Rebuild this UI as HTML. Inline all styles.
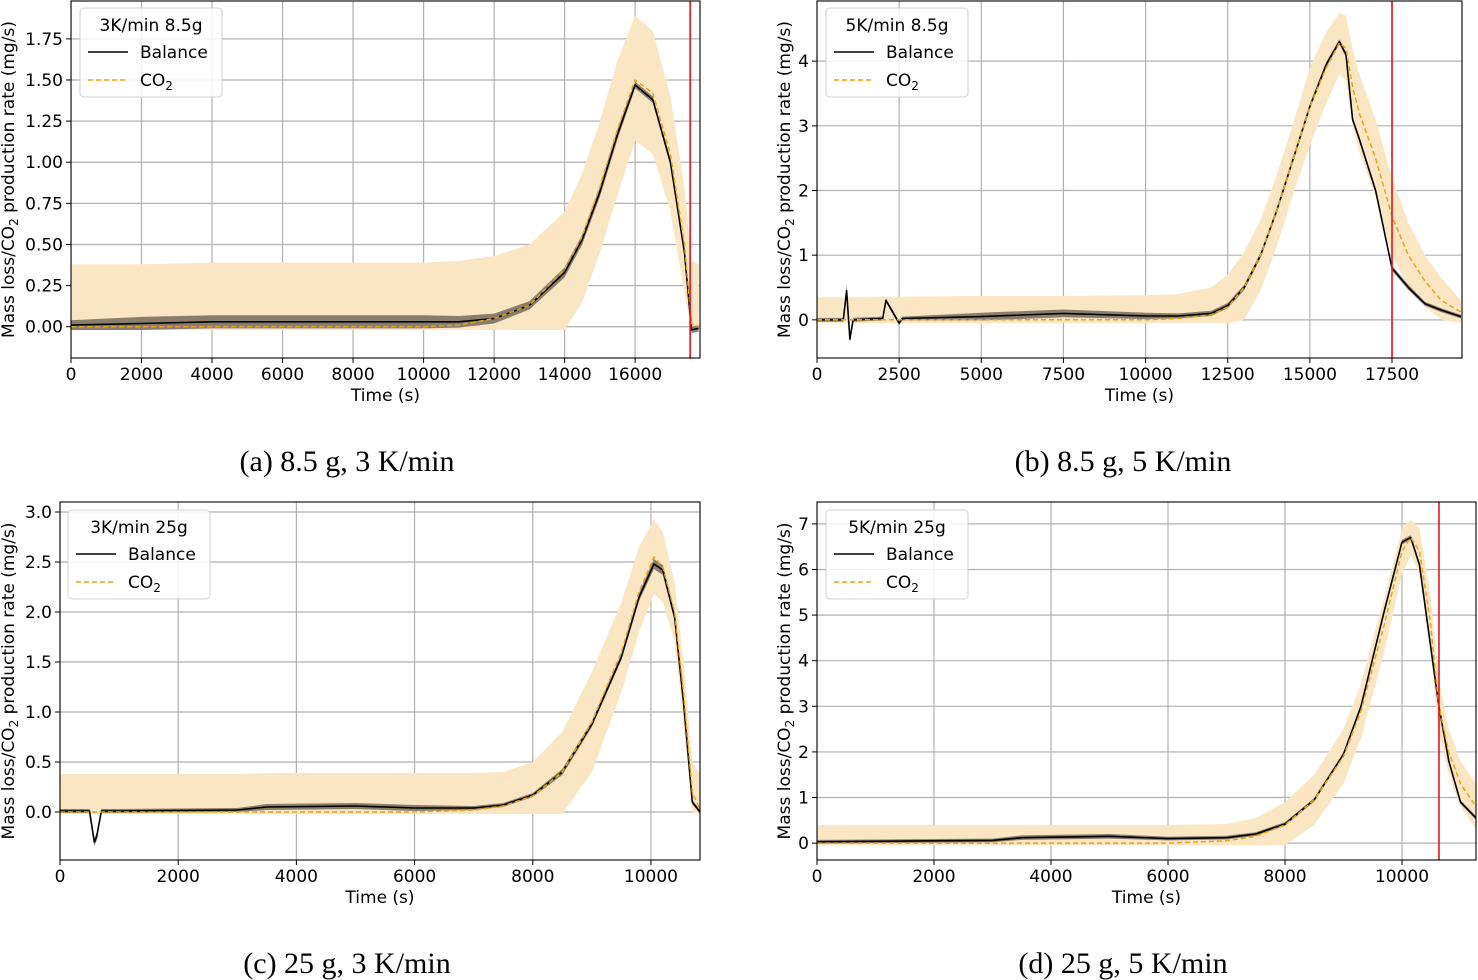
<!DOCTYPE html>
<html><head><meta charset="utf-8"><style>
html,body{margin:0;padding:0;background:#fff;}
svg{display:block;font-family:"DejaVu Sans","Liberation Sans",sans-serif;}
</style></head><body>
<svg id="fig" width="1478" height="980" viewBox="0 0 1478 980"></svg>
<script>
// ---- Panel (a) data ----
const aTimes=[0,2000,4000,6000,8000,10000,11000,12000,13000,14000,14500,15000,15500,16000,16500,17000,17400,17600,17800];
const aCO2=[0,0,0,0,0,0,0.01,0.05,0.13,0.35,0.55,0.85,1.2,1.5,1.42,1.05,0.5,0.02,0];
const aBal=[0.01,0.02,0.03,0.03,0.03,0.03,0.03,0.05,0.13,0.33,0.53,0.82,1.17,1.47,1.38,1.0,0.45,-0.02,-0.01];
const aNoise=[0.03,0.04,0.04,0.04,0.04,0.04,0.035,0.03,0.025,0.03,0.03,0.03,0.03,0.02,0.02,0.02,0.02,0.02,0.02];
const aUpper=[0.38,0.38,0.39,0.39,0.39,0.39,0.40,0.43,0.5,0.7,0.93,1.25,1.62,1.89,1.8,1.4,0.85,0.4,0.38];
const aLower=[-0.02,-0.02,-0.02,-0.02,-0.02,-0.02,-0.02,-0.02,-0.02,-0.02,0.15,0.45,0.8,1.13,1.05,0.7,0.2,-0.02,-0.02];
const aXTicks=[0,2000,4000,6000,8000,10000,12000,14000,16000];
const aYTicks=[0,0.25,0.5,0.75,1.0,1.25,1.5,1.75];
const aYLabels=["0.00","0.25","0.50","0.75","1.00","1.25","1.50","1.75"];
// ---- Panel (b) data ----
const bTimes=[0,800,900,1000,1100,2000,2100,2500,2600,5000,7500,10000,11000,12000,12500,13000,13500,14000,14500,15000,15500,15900,16100,16300,16500,17000,17500,18000,18500,19000,19600];
const bCO2=[0,0,0,0,0,0,0,0,0,0,0,0,0.02,0.08,0.2,0.5,1.0,1.7,2.5,3.3,3.9,4.28,4.2,3.6,3.2,2.5,1.6,1.0,0.6,0.3,0.12];
const bBal=[0,0,0.45,-0.3,0,0.02,0.3,-0.05,0.02,0.05,0.1,0.06,0.06,0.1,0.22,0.5,1.0,1.7,2.5,3.3,3.95,4.3,4.1,3.1,2.8,2.0,0.8,0.5,0.25,0.15,0.05];
const bNoise=[0.03,0.03,0.1,0.05,0.03,0.03,0.03,0.03,0.03,0.06,0.06,0.05,0.04,0.04,0.04,0.04,0.04,0.04,0.04,0.04,0.04,0.04,0.04,0.04,0.04,0.04,0.04,0.04,0.03,0.03,0.03];
const bUpper=[0.35,0.35,0.35,0.35,0.35,0.36,0.36,0.36,0.36,0.37,0.37,0.38,0.4,0.5,0.7,1.05,1.55,2.25,3.05,3.9,4.45,4.75,4.7,4.2,3.8,3.1,2.2,1.5,1.0,0.65,0.3];
const bLower=[-0.05,-0.05,-0.05,-0.05,-0.05,-0.05,-0.05,-0.05,-0.05,-0.05,-0.05,-0.05,-0.05,-0.05,-0.05,0.0,0.45,1.15,1.95,2.7,3.35,3.8,3.7,3.0,2.6,1.9,1.0,0.5,0.2,0.0,-0.05];
const bXTicks=[0,2500,5000,7500,10000,12500,15000,17500];
const bYTicks=[0,1,2,3,4];
const bYLabels=["0","1","2","3","4"];
// ---- Panel (c) data ----
const cTimes=[0,500,580,620,700,1000,3000,3500,5000,6000,7000,7500,8000,8500,9000,9500,9800,10050,10200,10400,10550,10700,10830];
const cCO2=[0,0,0,0,0,0,0,0,0,0,0.02,0.06,0.16,0.4,0.9,1.6,2.2,2.55,2.45,2.0,1.2,0.2,0.02];
const cBal=[0.01,0.01,-0.3,-0.25,0.01,0.01,0.02,0.05,0.06,0.04,0.04,0.07,0.17,0.4,0.88,1.55,2.15,2.48,2.42,1.95,1.1,0.1,0.0];
const cNoise=[0.02,0.02,0.04,0.04,0.02,0.02,0.02,0.03,0.03,0.03,0.02,0.02,0.02,0.03,0.03,0.03,0.04,0.05,0.05,0.04,0.03,0.02,0.02];
const cUpper=[0.38,0.38,0.38,0.38,0.38,0.38,0.38,0.39,0.39,0.39,0.39,0.4,0.5,0.8,1.4,2.1,2.65,2.93,2.8,2.3,1.5,0.5,0.38];
const cLower=[-0.02,-0.02,-0.02,-0.02,-0.02,-0.02,-0.02,-0.02,-0.02,-0.02,-0.02,-0.02,-0.02,-0.02,0.4,1.2,1.8,2.18,2.1,1.7,0.9,0.0,-0.02];
const cXTicks=[0,2000,4000,6000,8000,10000];
const cYTicks=[0,0.5,1.0,1.5,2.0,2.5,3.0];
const cYLabels=["0.0","0.5","1.0","1.5","2.0","2.5","3.0"];
// ---- Panel (d) data ----
const dTimes=[0,2000,3000,3500,5000,6000,7000,7500,8000,8500,9000,9300,9700,10000,10150,10300,10480,10630,10800,11000,11265];
const dCO2=[0,0,0,0,0,0,0.05,0.15,0.4,0.95,1.9,2.9,4.8,6.4,6.7,6.4,4.9,3.0,2.0,1.3,0.8];
const dBal=[0.03,0.05,0.06,0.12,0.15,0.1,0.12,0.2,0.42,0.95,1.95,3.0,5.1,6.6,6.7,6.1,4.4,3.0,1.8,0.9,0.55];
const dNoise=[0.04,0.04,0.04,0.05,0.05,0.04,0.04,0.04,0.04,0.04,0.04,0.04,0.05,0.05,0.05,0.05,0.04,0.04,0.04,0.04,0.04];
const dUpper=[0.4,0.4,0.4,0.4,0.4,0.4,0.42,0.55,0.9,1.5,2.5,3.5,5.4,6.9,7.1,6.9,5.5,3.6,2.5,1.8,1.3];
const dLower=[-0.05,-0.05,-0.05,-0.05,-0.05,-0.05,-0.05,-0.05,-0.05,0.4,1.3,2.3,4.2,5.9,6.3,5.9,4.3,2.4,1.5,0.8,0.3];
const dXTicks=[0,2000,4000,6000,8000,10000];
const dYTicks=[0,1,2,3,4,5,6,7];
const dYLabels=["0","1","2","3","4","5","6","7"];

const NS="http://www.w3.org/2000/svg";
const fig=document.getElementById('fig');
function mk(tag,attrs,parent,text){const e=document.createElementNS(NS,tag);for(const k in attrs)e.setAttribute(k,attrs[k]);if(text!==undefined)e.textContent=text;(parent||fig).appendChild(e);return e;}

function panel(p){
  const g=mk('g',{});
  
  
  const sx=t=>p.x0+(t-p.xmin)/(p.xmax-p.xmin)*(p.x1-p.x0);
  const sy=v=>p.y1-(v-p.ymin)/(p.ymax-p.ymin)*(p.y1-p.y0);
  const cp=mk('clipPath',{id:'clip'+p.id},g);
  mk('rect',{x:p.x0,y:p.y0,width:p.x1-p.x0,height:p.y1-p.y0},cp);
  const inner=mk('g',{'clip-path':'url(#clip'+p.id+')'},g);
  p.xt.forEach(t=>{const l=mk('line',{x1:sx(t),x2:sx(t),y1:p.y0,y2:p.y1,stroke:'#b0b0b0','stroke-width':1.2},inner);
    });
  p.yt.forEach(v=>{const l=mk('line',{x1:p.x0,x2:p.x1,y1:sy(v),y2:sy(v),stroke:'#b0b0b0','stroke-width':1.2},inner);
    });
  let d='';p.t.forEach((t,i)=>d+=(i?'L':'M')+sx(t).toFixed(1)+','+sy(p.up[i]).toFixed(1));
  for(let i=p.t.length-1;i>=0;i--)d+='L'+sx(p.t[i]).toFixed(1)+','+sy(p.lo[i]).toFixed(1);
  const band=mk('path',{d:d+'Z',fill:'#fbe6c4',stroke:'none'},inner);
  
  d='';p.t.forEach((t,i)=>d+=(i?'L':'M')+sx(t).toFixed(1)+','+sy(p.bal[i]+p.nz[i]).toFixed(1));
  for(let i=p.t.length-1;i>=0;i--)d+='L'+sx(p.t[i]).toFixed(1)+','+sy(p.bal[i]-p.nz[i]).toFixed(1);
  const nb=mk('path',{d:d+'Z',fill:'#000','fill-opacity':0.45},inner);
  
  const line=(arr,attrs,name)=>{let dd='';p.t.forEach((t,i)=>dd+=(i?'L':'M')+sx(t).toFixed(1)+','+sy(arr[i]).toFixed(1));
    const e=mk('path',Object.assign({d:dd,fill:'none','stroke-linejoin':'round'},attrs),inner);};
  line(p.bal,{stroke:'#000','stroke-width':1.6},'balance-line');
  line(p.co2,{stroke:'#e8a317','stroke-width':1.5,'stroke-dasharray':'5,3'},'co2-line');
  if(p.red!==undefined){const r=mk('line',{x1:sx(p.red),x2:sx(p.red),y1:p.y0,y2:p.y1,stroke:'#e8141a','stroke-width':1.6},inner);
    }
  const fr=mk('rect',{x:p.x0,y:p.y0,width:p.x1-p.x0,height:p.y1-p.y0,fill:'none',stroke:'#000','stroke-width':1.1},g);
  
  p.xt.forEach(t=>{mk('line',{x1:sx(t),x2:sx(t),y1:p.y1,y2:p.y1+5,stroke:'#000'},g);
    const tx=mk('text',{x:sx(t),y:p.y1+22,'font-size':17,'text-anchor':'middle'},g,String(t));
    });
  p.yt.forEach((v,i)=>{mk('line',{x1:p.x0-5,x2:p.x0,y1:sy(v),y2:sy(v),stroke:'#000'},g);
    const tx=mk('text',{x:p.x0-8,y:sy(v)+6,'font-size':17,'text-anchor':'end'},g,p.yl[i]);
    });
  const xt=mk('text',{x:(p.x0+p.x1)/2,y:p.y1+43,'font-size':17,'text-anchor':'middle'},g,'Time (s)');
  
  const yc=(p.y0+p.y1)/2;
  const yt=mk('text',{x:p.ylx,y:yc,'font-size':17,'text-anchor':'middle',transform:'rotate(-90 '+p.ylx+' '+yc+')'},g);
  
  mk('tspan',{},yt,'Mass loss/CO');mk('tspan',{'font-size':12,dy:4},yt,'2');mk('tspan',{dy:-4},yt,' production rate (mg/s)');
  const lg=mk('g',{},g);
  const lx=p.lx,ly=p.ly;
  mk('rect',{x:lx,y:ly,width:142,height:89,rx:4,fill:'#fff','fill-opacity':0.85,stroke:'#d0d0d0'},lg);
  mk('text',{x:lx+71,y:ly+23,'font-size':17,'text-anchor':'middle'},lg,p.title);
  const e1=mk('g',{},lg);
  mk('line',{x1:lx+8,x2:lx+48,y1:ly+44,y2:ly+44,stroke:'#000','stroke-width':1.6},e1);
  mk('text',{x:lx+60,y:ly+50,'font-size':17},e1,'Balance');
  const e2=mk('g',{},lg);
  mk('line',{x1:lx+8,x2:lx+48,y1:ly+72,y2:ly+72,stroke:'#e8a317','stroke-width':1.5,'stroke-dasharray':'5,3'},e2);
  const t2=mk('text',{x:lx+60,y:ly+78,'font-size':17},e2,'CO');mk('tspan',{'font-size':12,dy:4},t2,'2');
  const cap=mk('text',{x:p.capx,y:p.capy,'font-size':30,'text-anchor':'middle','font-family':'"Liberation Serif",serif'},fig,p.cap);
  
}
panel({id:'a',x0:71,x1:700,y0:1,y1:358,xmin:0,xmax:17840,ymin:-0.19,ymax:1.98,t:aTimes,co2:aCO2,bal:aBal,nz:aNoise,up:aUpper,lo:aLower,
  xt:aXTicks,yt:aYTicks,yl:aYLabels,red:17560,ylx:14,lx:80,ly:8,title:'3K/min 8.5g',cap:'(a) 8.5 g, 3 K/min',capx:347,capy:471});
panel({id:'b',x0:817,x1:1462,y0:1,y1:358,xmin:0,xmax:19630,ymin:-0.59,ymax:4.93,t:bTimes,co2:bCO2,bal:bBal,nz:bNoise,up:bUpper,lo:bLower,
  xt:bXTicks,yt:bYTicks,yl:bYLabels,red:17500,ylx:790,lx:826,ly:8,title:'5K/min 8.5g',cap:'(b) 8.5 g, 5 K/min',capx:1123,capy:471});
panel({id:'c',x0:60,x1:700,y0:502,y1:860,xmin:0,xmax:10830,ymin:-0.48,ymax:3.1,t:cTimes,co2:cCO2,bal:cBal,nz:cNoise,up:cUpper,lo:cLower,
  xt:cXTicks,yt:cYTicks,yl:cYLabels,ylx:14,lx:68,ly:510,title:'3K/min 25g',cap:'(c) 25 g, 3 K/min',capx:347,capy:973});
panel({id:'d',x0:817,x1:1476,y0:502,y1:860,xmin:0,xmax:11265,ymin:-0.37,ymax:7.48,t:dTimes,co2:dCO2,bal:dBal,nz:dNoise,up:dUpper,lo:dLower,
  xt:dXTicks,yt:dYTicks,yl:dYLabels,red:10632,ylx:790,lx:826,ly:510,title:'5K/min 25g',cap:'(d) 25 g, 5 K/min',capx:1123,capy:973});
</script>
</body></html>
